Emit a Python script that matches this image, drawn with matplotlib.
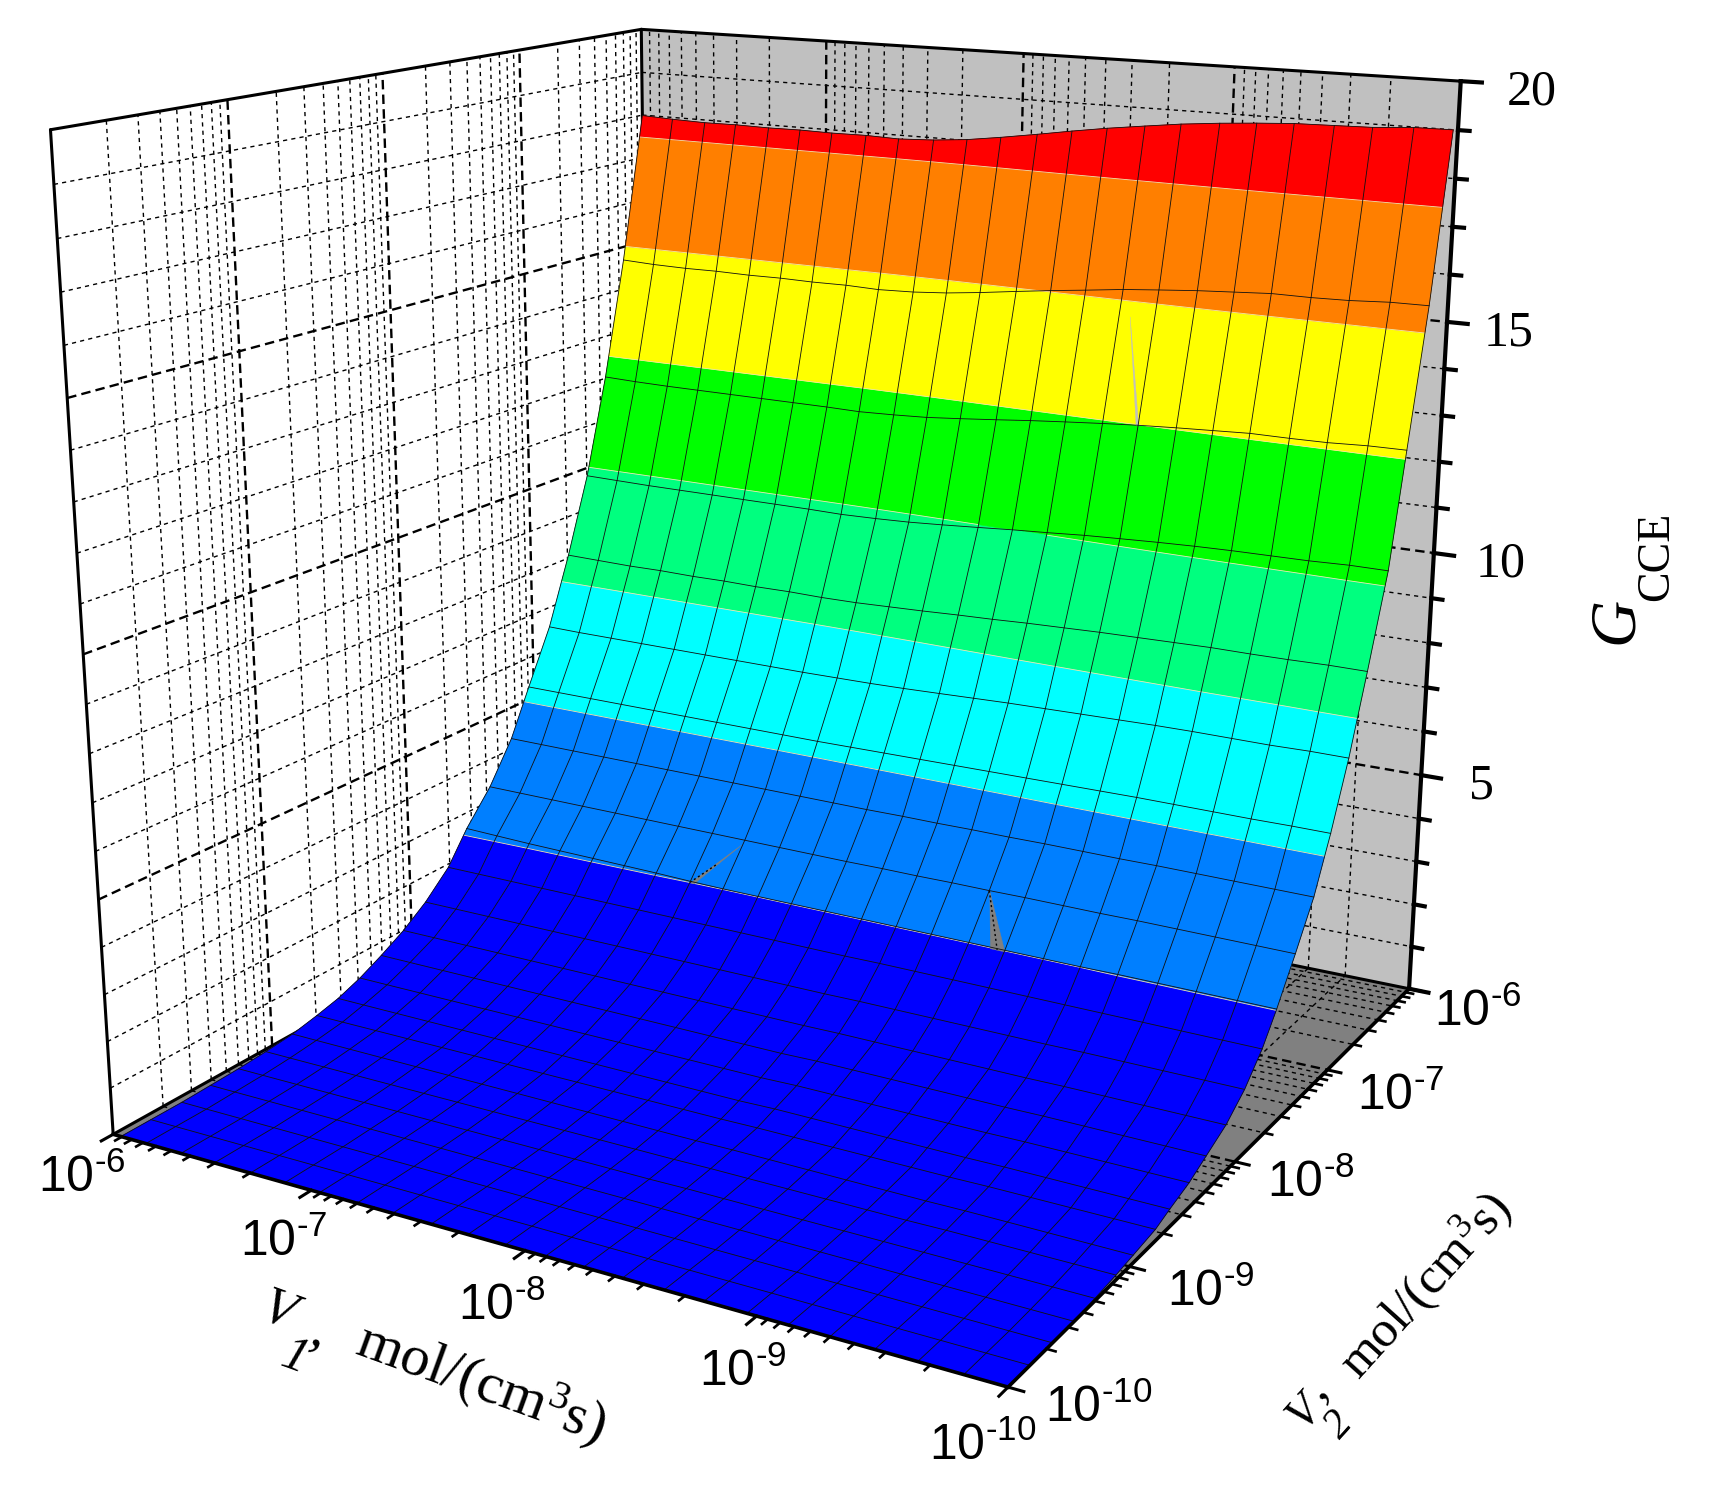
import numpy as np
import matplotlib
matplotlib.use("Agg")
import matplotlib.pyplot as plt
from mpl_toolkits.mplot3d import proj3d
from mpl_toolkits.mplot3d.art3d import Poly3DCollection, Line3DCollection

plt.rcParams['mathtext.fontset'] = 'custom'
plt.rcParams['mathtext.rm'] = 'Liberation Sans'
plt.rcParams['mathtext.default'] = 'regular'

# data (all V values are log10)
v1_grid = [-6.0, -6.17, -6.35, -6.52, -6.70, -6.87, -7.04, -7.22, -7.39, -7.57, -7.74, -7.91,
           -8.09, -8.26, -8.43, -8.61, -8.78, -8.96, -9.13, -9.30, -9.48, -9.65, -9.83, -10.0]
v1_first_col = [-6.0] * 13 + [-6.01, -6.02, -6.03, -6.03] + [-6.04] * 7
v2_at_left = [-6.0, -6.18, -6.35, -6.52, -6.69, -6.86, -7.04, -7.19, -7.37, -7.56, -7.71, -7.89,
              -8.06, -8.24, -8.41, -8.58, -8.73, -8.91, -9.09, -9.27, -9.45, -9.63, -9.82, -10.0]
v2_at_right = [-6.06, -6.24, -6.42, -6.57, -6.76, -6.93, -7.10, -7.26, -7.44, -7.62, -7.76, -7.93,
               -8.11, -8.30, -8.46, -8.64, -8.77, -8.97, -9.12, -9.30, -9.48, -9.65, -9.83, -10.0]
decades = [-6, -7, -8, -9, -10]
z_major = [5, 10, 15, 20]
z_minor = [1, 2, 3, 4, 6, 7, 8, 9, 11, 12, 13, 14, 16, 17, 18, 19]
levels = [-1, 2.5, 5, 7.5, 10, 12.5, 15, 17.5, 21]
band_colors = ['#0000ff', '#007fff', '#00ffff', '#00ff7f', '#00ff00', '#ffff00', '#ff7f00', '#ff0000']
# G_CCE, one row per V2 (from 1e-6 down), one column per V1 (from 1e-6 down)
g_cce = [
    [17.99, 17.96, 17.94, 17.95, 17.94, 17.95, 17.94, 17.95, 17.93, 17.97, 18.04, 18.15, 18.28, 18.41, 18.53, 18.64, 18.74, 18.82, 18.88, 18.93, 18.95, 18.97, 19.03, 19.04],
    [14.69, 14.66, 14.65, 14.66, 14.65, 14.66, 14.65, 14.66, 14.64, 14.67, 14.73, 14.82, 14.93, 15.03, 15.12, 15.22, 15.29, 15.36, 15.41, 15.46, 15.46, 15.48, 15.53, 15.54],
    [12.03, 12.01, 12.00, 12.00, 12.00, 12.00, 12.00, 12.00, 11.99, 12.02, 12.06, 12.13, 12.21, 12.29, 12.36, 12.43, 12.49, 12.54, 12.58, 12.62, 12.62, 12.63, 12.67, 12.68],
    [9.81, 9.80, 9.79, 9.79, 9.79, 9.79, 9.79, 9.79, 9.78, 9.80, 9.83, 9.88, 9.94, 10.00, 10.05, 10.11, 10.15, 10.19, 10.22, 10.24, 10.25, 10.26, 10.29, 10.29],
    [8.07, 8.06, 8.05, 8.06, 8.05, 8.06, 8.05, 8.06, 8.05, 8.06, 8.09, 8.12, 8.16, 8.19, 8.23, 8.26, 8.29, 8.31, 8.33, 8.35, 8.35, 8.36, 8.38, 8.38],
    [6.53, 6.52, 6.52, 6.52, 6.52, 6.52, 6.52, 6.52, 6.52, 6.53, 6.54, 6.56, 6.59, 6.62, 6.65, 6.67, 6.69, 6.71, 6.73, 6.74, 6.74, 6.74, 6.76, 6.76],
    [5.30] * 10 + [5.31, 5.32, 5.33, 5.34, 5.35, 5.36, 5.37, 5.38, 5.39, 5.39, 5.39, 5.39, 5.40, 5.40],
    [4.25] * 12 + [4.26, 4.26, 4.27, 4.27, 4.28, 4.28, 4.28] + [4.29] * 5,
    [3.34] * 12 + [3.35, 3.35, 3.36, 3.36, 3.37, 3.37, 3.37] + [3.38] * 5,
    [2.62, 2.60, 2.58, 2.57, 2.56, 2.55, 2.54, 2.52] + [2.51] * 11 + [2.52] * 5,
    [1.92] * 13 + [1.93] * 11,
    [1.38] * 13 + [1.39] * 6 + [1.40] * 5,
    [0.99] * 13 + [1.00] * 6 + [1.01] * 5,
    [0.72] * 13 + [0.74] * 6 + [0.75] * 5,
    [0.50] * 13 + [0.52] * 6 + [0.53] * 5,
    [0.34] * 13 + [0.36] * 6 + [0.37] * 5,
    [0.22] * 13 + [0.23] * 6 + [0.24] * 5,
    [0.14] * 13 + [0.15] * 6 + [0.16] * 5,
    [0.08] * 13 + [0.09] * 6 + [0.10] * 5,
    [0.04] * 13 + [0.05] * 11,
    [0.02] * 24,
    [0.0] * 24,
    [0.0] * 24,
    [0.0] * 24,
]
# small gaps in the surface, as (row, column) positions in the mesh
gaps_dark = [[(8, 15), (9.03, 15.6), (9.03, 16)], [(9.03, 7), (9.03, 7.12), (8.1, 7.95)]]
gap_light = [(2, 16), (2, 15.93), (1.2, 15.3)]
decade_labels = ['10$^{\\text{-}6}$', '10$^{\\text{-}7}$', '10$^{\\text{-}8}$', '10$^{\\text{-}9}$', '10$^{\\text{-}10}$']
z_tick_labels = ['5', '10', '15', '20']

W, H = 1715, 1494
fig = plt.figure(figsize=(W / 100, H / 100), dpi=100)
S, cx, cy = 8983.96, 795.69, 600.91   # scale and centre of the view, in pixels
ax = fig.add_axes([(cx - 0.095 * S) / W, (H - cy - 0.095 * S) / H, 0.185 * S / W, 0.185 * S / H],
                  projection='3d', computed_zorder=False)
ax.set_xlim(-6, -10)
ax.set_ylim(-10, -6)
ax.set_zlim(0, 20)
ax.set_axis_off()
ax.view_init(elev=15.9785, azim=-60.142, roll=-0.0463)
ax.set_proj_type('persp', focal_length=0.3609)
ax.set_box_aspect((0.9928, 1.0019, 1))

# walls and floor
def wall(points, color):
    ax.add_collection3d(Poly3DCollection([points], facecolors=color, edgecolors=color, linewidths=0, zorder=1))

wall([(-6, -6, 0), (-10, -6, 0), (-10, -6, 20), (-6, -6, 20)], '#c0c0c0')
wall([(-6, -10, 0), (-10, -10, 0), (-10, -6, 0), (-6, -6, 0)], '#808080')

minor_ticks = [d + np.log10(m) for d in decades[1:] for m in range(2, 10)]

def grid_style(major):
    if major:
        return dict(color='k', lw=1.7, ls=(0, (4, 2.2)), zorder=2, clip_on=False)
    return dict(color='k', lw=1.0, ls=(0, (3, 3)), zorder=2, clip_on=False)

for vals, major in ((minor_ticks, False), (decades[1:-1], True)):
    for v in vals:
        ax.plot([-6, -6], [v, v], [0, 20], **grid_style(major))      # left wall
        ax.plot([v, v], [-6, -6], [0, 20], **grid_style(major))      # back wall
        ax.plot([-6, -10], [v, v], [0, 0], **grid_style(major))      # floor
        ax.plot([v, v], [-10, -6], [0, 0], **grid_style(major))      # floor
for vals, major in ((z_minor, False), (z_major[:-1], True)):
    for z in vals:
        ax.plot([-6, -6], [-10, -6], [z, z], **grid_style(major))
        ax.plot([-6, -10], [-6, -6], [z, z], **grid_style(major))

# box edges behind the surface
back_edges = [((-6, -10), (-6, -6), (0, 0)), ((-6, -10), (-6, -6), (20, 20)), ((-6, -6), (-6, -10), (0, 0)),
              ((-6, -6), (-6, -10), (20, 20)), ((-6, -6), (-10, -10), (0, 20)), ((-6, -6), (-6, -6), (0, 20))]
for xs, ys, zs in back_edges:
    ax.plot(xs, ys, zs, color='k', lw=2.2, zorder=2, clip_on=False, solid_capstyle='round')

# the surface, cut into colour bands
def clip_band(pts, lo, hi):
    for limit, sign in ((lo, 1), (hi, -1)):
        out = []
        for k in range(len(pts)):
            a, b = pts[k], pts[(k + 1) % len(pts)]
            da, db = (a[2] - limit) * sign, (b[2] - limit) * sign
            if da >= 0:
                out.append(a)
            if da * db < 0:
                out.append(a + (b - a) * da / (da - db))
        pts = out
        if not pts:
            break
    return pts

g = np.array(g_cce)
nr, nc = g.shape
xx = np.array([v1_grid] * nr)
xx[:, 0] = v1_first_col
yy = np.array([[v2_at_left[r] + (v2_at_right[r] - v2_at_left[r]) * c / (nc - 1) for c in range(nc)] for r in range(nr)])
nodes = np.dstack([xx, yy, g])

polys, cols, edges = [], [], []
for i in range(nr - 1):
    for j in range(nc - 1):
        cell = [nodes[i, j], nodes[i, j + 1], nodes[i + 1, j + 1], nodes[i + 1, j]]
        for n, color in enumerate(band_colors):
            part = clip_band(cell, levels[n], levels[n + 1])
            if len(part) >= 3:
                polys.append(part)
                cols.append(color)
        for lev in levels[1:-1]:
            cut = []
            for k in range(4):
                a, b = cell[k], cell[(k + 1) % 4]
                if (a[2] - lev) * (b[2] - lev) < 0:
                    cut.append(a + (b - a) * (lev - a[2]) / (b[2] - a[2]))
            if len(cut) == 2:
                edges.append(cut)
ax.add_collection3d(Poly3DCollection(polys, facecolors=cols, edgecolors=cols, linewidths=0.4, zorder=3))
ax.add_collection3d(Line3DCollection(edges, colors='#f0e8a8', linewidths=0.6, zorder=3.2))

# gaps where the wall behind shows through
def mesh_point(r, c):
    r0, c0 = min(int(r), nr - 2), min(int(c), nc - 2)
    fr, fc = r - r0, c - c0
    top = nodes[r0, c0] * (1 - fc) + nodes[r0, c0 + 1] * fc
    low = nodes[r0 + 1, c0] * (1 - fc) + nodes[r0 + 1, c0 + 1] * fc
    return top * (1 - fr) + low * fr

for gap in gaps_dark:
    pts = [mesh_point(r, c) for r, c in gap]
    ax.add_collection3d(Poly3DCollection([pts], facecolors='#808080', edgecolors='#808080', linewidths=0.3, zorder=3.5))
    mid = (pts[1] + pts[2]) / 2
    ax.plot([pts[0][0], mid[0]], [pts[0][1], mid[1]], [pts[0][2], mid[2]], color='k', lw=1.0, ls=(0, (1.5, 2)), zorder=3.6)
pts = [mesh_point(r, c) for r, c in gap_light]
ax.add_collection3d(Poly3DCollection([pts], facecolors='#c0c0c0', edgecolors='#c0c0c0', linewidths=0.3, zorder=3.5))

# mesh lines
for i in range(nr):
    ax.plot(xx[i], yy[i], g[i], color='#101010', lw=0.6, zorder=4, clip_on=False)
for j in range(nc):
    ax.plot(xx[:, j], yy[:, j], g[:, j], color='#101010', lw=0.6, zorder=4, clip_on=False)

# axes lines and ticks
ax_line = dict(color='k', zorder=5, clip_on=False, solid_capstyle='projecting')
ax.plot([-6, -10], [-10, -10], [0, 0], lw=2.6, **ax_line)
ax.plot([-10, -10], [-10, -6], [0, 0], lw=2.6, **ax_line)
ax.plot([-10, -10], [-6, -6], [0, 20], lw=3.0, **ax_line)
for vals, xlen, ylen, lw in ((decades, 0.06, 0.07, 2.2), (minor_ticks, 0.035, 0.04, 1.9)):
    for v in vals:
        ax.plot([v, v], [-10, -10 - ylen], [0, 0], lw=lw, **ax_line)
        ax.plot([-10, -10 - xlen], [v, v], [0, 0], lw=lw, **ax_line)
for z in [0] + z_major:
    ax.plot([-10, -10.09], [-6, -6], [z, z], lw=3.0, **ax_line)
for z in z_minor:
    ax.plot([-10, -10.05], [-6, -6], [z, z], lw=3.0, **ax_line)

# tick labels, offset in pixels from the projected tick
M = ax.get_proj()

def tick_text(x, y, z, s, dx, dy, family, size):
    xp, yp, _ = proj3d.proj_transform(x, y, z, M)
    ax.annotate(s, xy=(xp, yp), xytext=(dx, dy), textcoords='offset pixels', ha='center', va='center',
                fontsize=size, family=family, annotation_clip=False)

x_dx = [-31, -28, -23, -14, -25]
x_dy = [-44, -52, -55, -56, -59]
y_dx = [69, 73, 76, 81, 91]
y_dy = [-23, -26, -21, -25, -21]
for k, d in enumerate(decades):
    tick_text(d, -10, 0, decade_labels[k], x_dx[k], x_dy[k], 'Liberation Sans', 36)
    tick_text(-10, d, 0, decade_labels[k], y_dx[k], y_dy[k], 'Liberation Sans', 36)
z_dx = [60, 67, 62, 71]
for k, z in enumerate(z_major):
    tick_text(-10, -6, z, z_tick_labels[k], z_dx[k], -11, 'Liberation Serif', 36)

# axis titles
def px_text(x, y, s, **kw):
    fig.text(x / W, 1 - y / H, s, ha='center', va='center', family='Liberation Serif', rotation_mode='anchor', **kw)

px_text(1616, 620, 'G', fontsize=47, style='italic', rotation=90)
px_text(1657, 556, 'CCE', fontsize=33, rotation=90)
px_text(278, 1312, 'V', fontsize=38, style='italic', rotation=-20)
px_text(294, 1358, "1", fontsize=36, style='italic', rotation=-20)
px_text(308, 1363, "’", fontsize=40, rotation=-20)
px_text(481, 1383, 'mol/(cm$^{3}$s)', fontsize=42, rotation=-20)
px_text(1304, 1412, 'V', fontsize=34, style='italic', rotation=48)
px_text(1339, 1425, "2", fontsize=30, style='italic', rotation=48)
px_text(1335, 1405, "’", fontsize=36, rotation=48)
px_text(1425, 1286, 'mol/(cm$^{3}$s)', fontsize=37, rotation=48)

fig.savefig('out.png', dpi=100)
